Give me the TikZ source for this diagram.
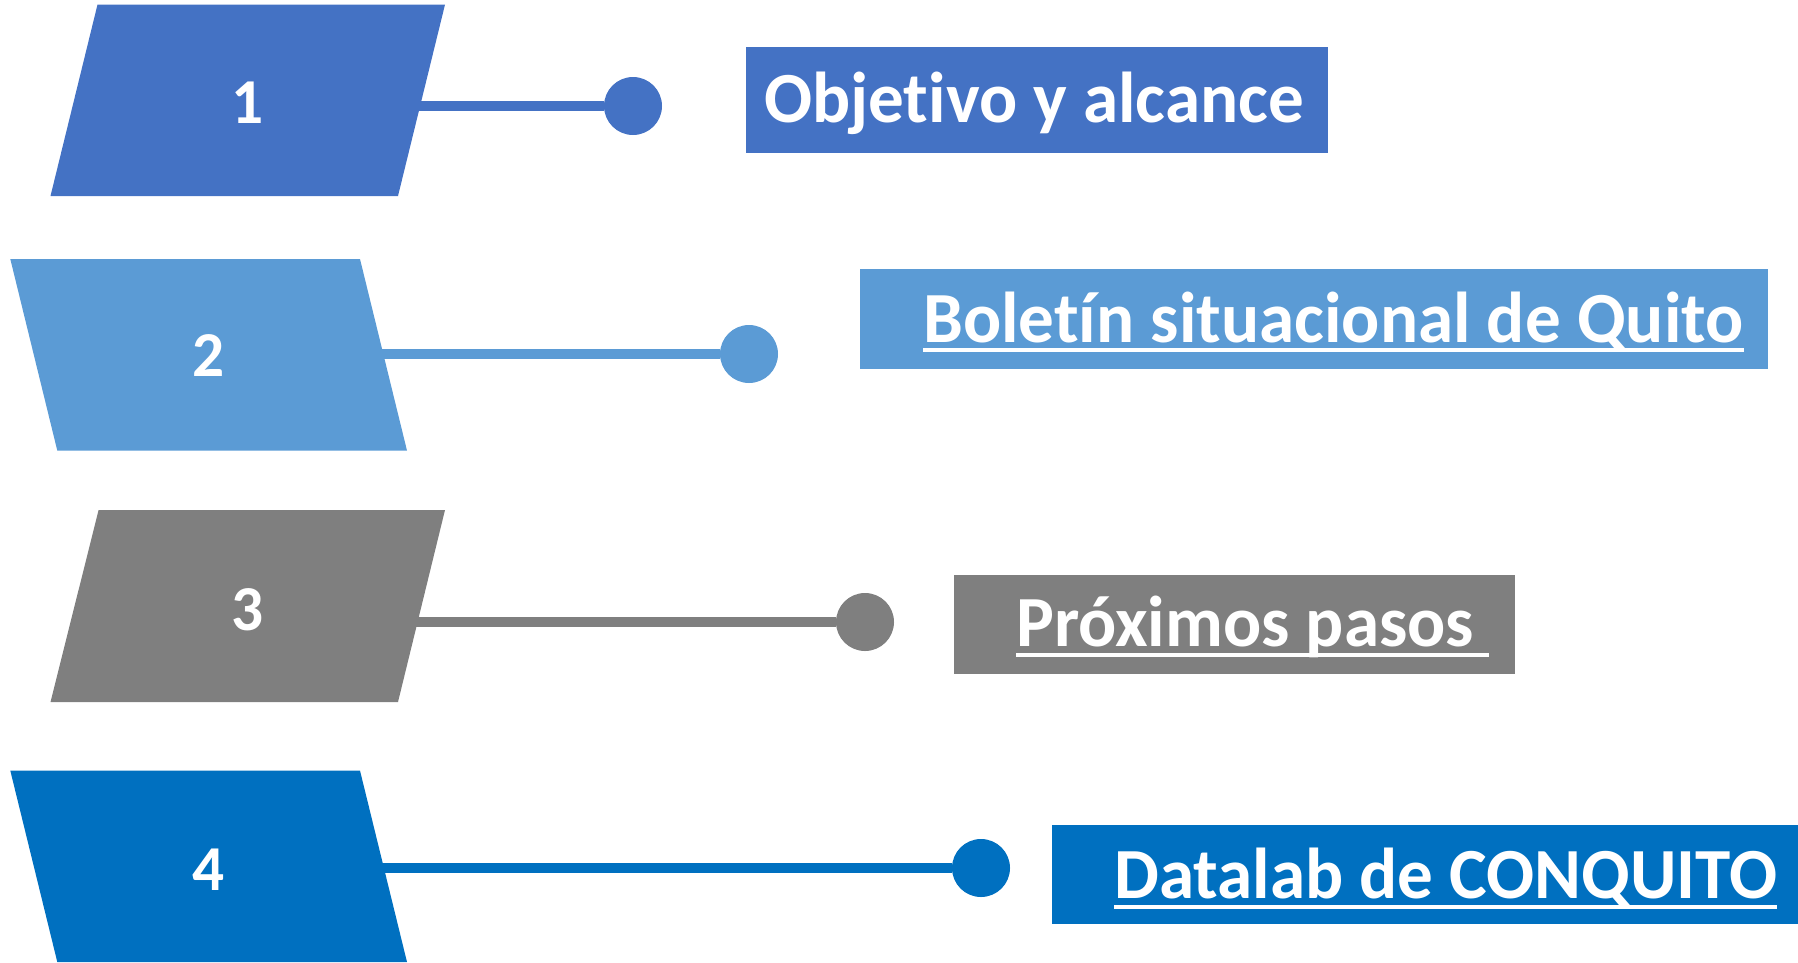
\documentclass[tikz,border=0pt]{standalone}
\usepackage{fontspec}
\setmainfont{Carlito}[RawFeature=-liga, FakeStretch=0.988]
\definecolor{cA}{HTML}{4472C4}
\definecolor{cB}{HTML}{5B9BD5}
\definecolor{cC}{HTML}{7F7F7F}
\definecolor{cD}{HTML}{0070C0}
\begin{document}
\begin{tikzpicture}[x=1pt,y=-1pt,
  numtxt/.style={text=white, font=\fontsize{64}{70}\selectfont\bfseries, inner sep=0pt, anchor=base},
  boxtxt/.style={text=white, font=\fontsize{72}{80}\selectfont\bfseries, inner sep=0pt, anchor=base west},
  dot/.style={circle, fill=#1, minimum size=58pt, inner sep=0pt},
  conn/.style={draw=#1, line width=10pt},
  uline/.style={draw=white, line width=3.5pt}]
\useasboundingbox (0,0) rectangle (1798,962);
% connectors (drawn first, start under the parallelograms)
\coordinate (e1) at (400,106);
\coordinate (e2) at (360,354);
\coordinate (e3) at (400,622);
\coordinate (e4) at (360,868);
\node[dot=cA] (d1) at (633,106) {};
\node[dot=cB] (d2) at (749,354) {};
\node[dot=cC] (d3) at (865,622) {};
\node[dot=cD] (d4) at (981,868) {};
\draw[conn=cA] (e1) -- (d1);
\draw[conn=cB] (e2) -- (d2);
\draw[conn=cC] (e3) -- (d3);
\draw[conn=cD] (e4) -- (d4);
% parallelograms
\fill[cA] (97.5,4.6) -- (445,4.6) -- (398,196) -- (50.5,196) -- cycle;
\fill[cB] (10.3,259) -- (360,259) -- (407,450.6) -- (57.3,450.6) -- cycle;
\fill[cC] (98.6,510) -- (445,510) -- (398,702) -- (50.5,702) -- cycle;
\fill[cD] (10.3,770.6) -- (360,770.6) -- (407,962) -- (57.3,962) -- cycle;
\node[numtxt] (n1) at (248,123) {1};
\node[numtxt] (n2) at (209,376) {2};
\node[numtxt] (n3) at (248,630) {3};
\node[numtxt] (n4) at (209,890) {4};
% boxes
\fill[cA] (746,47) rectangle (1328,153);
\fill[cB] (860,269) rectangle (1768,369);
\fill[cC] (954,575) rectangle (1515,674);
\fill[cD] (1052,825) rectangle (1798,924);
\node[boxtxt] (t1) at (764,122) {Objetivo y alcance};
\node[boxtxt] (t2) at (923,342) {Boletín situacional de Quito};
\node[boxtxt] (t3) at (1016,646) {Próximos pasos\hspace*{14pt}};
\node[boxtxt] (t4) at (1114,898) {Datalab de CONQUITO};
\draw[uline] ([yshift=-8pt]t2.base west) -- ([yshift=-8pt]t2.base east);
\draw[uline] ([yshift=-9pt]t3.base west) -- ([yshift=-9pt]t3.base east);
\draw[uline] ([yshift=-9pt]t4.base west) -- ([yshift=-9pt]t4.base east);
\end{tikzpicture}
\end{document}
